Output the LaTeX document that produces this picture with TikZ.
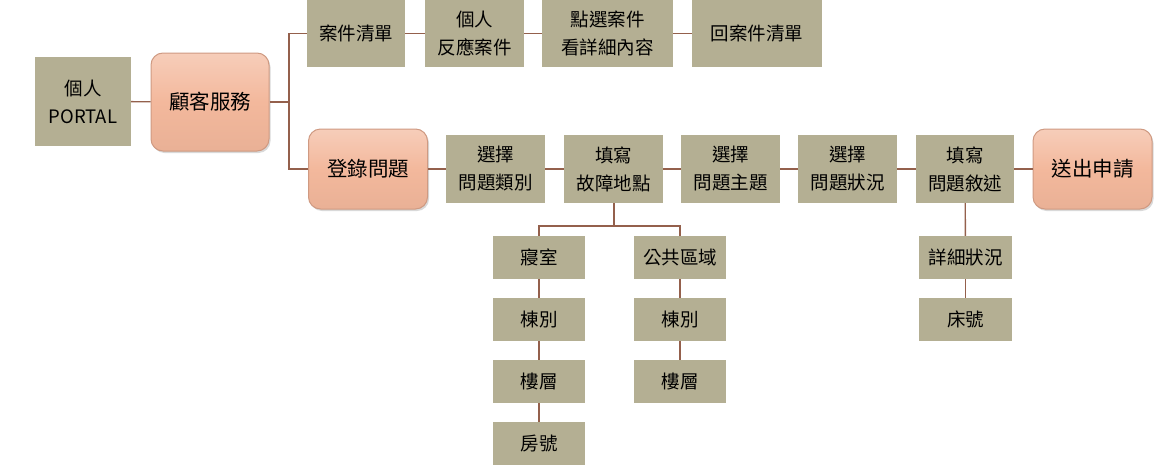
\documentclass[tikz,border=0pt]{standalone}
\usepackage{fontspec}
\setmainfont{Noto Sans CJK TC}
\usetikzlibrary{shadows}
\definecolor{boxc}{HTML}{B4AF93}
\definecolor{salm}{HTML}{F3B89C}
\definecolor{salmd}{HTML}{CF9A82}
\definecolor{linec}{HTML}{94604C}
\tikzset{
  khaki/.style={fill=boxc, inner sep=0pt, align=center, font=\fontsize{18.5}{28}\selectfont},
  salmbox/.style={rounded corners=12pt, inner sep=0pt, align=center, draw=salmd, line width=1pt,
    top color=salm!70!white, bottom color=salm!96!black, middle color=salm,
    drop shadow={opacity=0.3, shadow xshift=1.5pt, shadow yshift=-2pt},
    font=\fontsize{20.5}{24}\selectfont},
  conn/.style={draw=linec, line width=1.4pt},
  tconn/.style={draw=linec, line width=2pt}
}
\begin{document}
\begin{tikzpicture}[x=1pt,y=-1pt]
\useasboundingbox (0,0) rectangle (1155,466);
% left
\node[khaki, minimum width=96pt, minimum height=89pt] (portal) at (83,101.5) {個人\\PORTAL};
\node[salmbox, minimum width=118pt, minimum height=98pt] (gk) at (210,102) {顧客服務};
% top row
\node[khaki, minimum width=98pt, minimum height=67pt] (case) at (356,33.5) {案件清單};
\node[khaki, minimum width=99pt, minimum height=67pt] (resp) at (474.5,33.5) {個人\\反應案件};
\node[khaki, minimum width=131pt, minimum height=67pt] (pick) at (607.5,33.5) {點選案件\\看詳細內容};
\node[khaki, minimum width=130pt, minimum height=67pt] (back) at (757,33.5) {回案件清單};
% second row
\node[salmbox, minimum width=119pt, minimum height=80pt] (reg) at (368,169) {登錄問題};
\node[khaki, minimum width=99pt, minimum height=68pt] (cat) at (495.5,169) {選擇\\問題類別};
\node[khaki, minimum width=99pt, minimum height=68pt] (loc) at (613.5,169) {填寫\\故障地點};
\node[khaki, minimum width=99pt, minimum height=68pt] (topic) at (730.5,169) {選擇\\問題主題};
\node[khaki, minimum width=99pt, minimum height=68pt] (stat) at (847.5,169) {選擇\\問題狀況};
\node[khaki, minimum width=98pt, minimum height=68pt] (desc) at (965,169) {填寫\\問題敘述};
\node[salmbox, minimum width=119pt, minimum height=80pt] (send) at (1092.5,169) {送出申請};
% desc subtree
\node[khaki, minimum width=93pt, minimum height=43pt] (detail) at (965.5,257.5) {詳細狀況};
\node[khaki, minimum width=93pt, minimum height=43pt] (bed) at (965.5,319.5) {床號};
% location subtree
\node[khaki, minimum width=92pt, minimum height=43pt] (dorm) at (539,257.5) {寢室};
\node[khaki, minimum width=92pt, minimum height=43pt] (bld1) at (539,319.5) {棟別};
\node[khaki, minimum width=92pt, minimum height=43pt] (flr1) at (539,381.5) {樓層};
\node[khaki, minimum width=92pt, minimum height=43pt] (room) at (539,443.5) {房號};
\node[khaki, minimum width=92pt, minimum height=43pt] (pub) at (680,257.5) {公共區域};
\node[khaki, minimum width=92pt, minimum height=43pt] (bld2) at (680,319.5) {棟別};
\node[khaki, minimum width=92pt, minimum height=43pt] (flr2) at (680,381.5) {樓層};
% connectors
\coordinate (j) at (289,102);
\coordinate (t) at (613.5,226);
\draw[conn] (portal) -- (gk);
\draw[conn] (gk) -- (j);
\draw[conn] (j) |- (case);
\draw[conn] (j) |- (reg);
\draw[conn] (case) -- (resp);
\draw[conn] (resp) -- (pick);
\draw[conn] (pick) -- (back);
\draw[conn] (reg) -- (cat);
\draw[conn] (cat) -- (loc);
\draw[conn] (loc) -- (topic);
\draw[conn] (topic) -- (stat);
\draw[conn] (stat) -- (desc);
\draw[conn] (desc) -- (send);
\draw[conn] (desc) -- (detail);
\draw[conn] (detail) -- (bed);
\draw[tconn] (loc) -- (t);
\draw[tconn] (t) -| (dorm);
\draw[tconn] (t) -| (pub);
\draw[tconn] (dorm) -- (bld1);
\draw[tconn] (bld1) -- (flr1);
\draw[tconn] (flr1) -- (room);
\draw[tconn] (pub) -- (bld2);
\draw[tconn] (bld2) -- (flr2);
\end{tikzpicture}
\end{document}
